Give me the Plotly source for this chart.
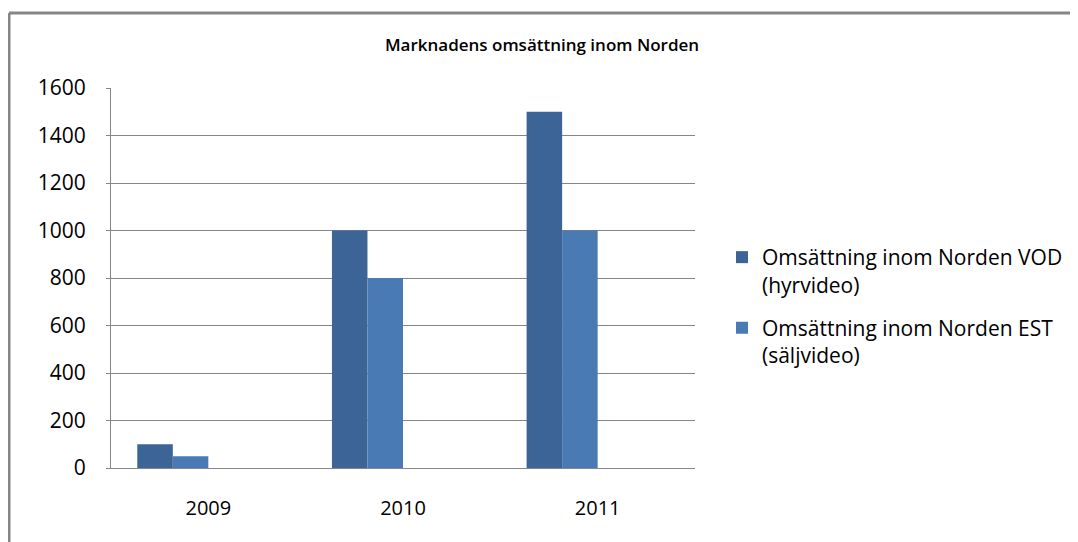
import plotly.graph_objects as go

years = ["2009", "2010", "2011"]
vod = [100, 1000, 1500]
est = [50, 800, 1000]
series_names = ["Omsättning inom Norden VOD<br>(hyrvideo)",
                "Omsättning inom Norden EST<br>(säljvideo)"]
title_text = "Marknadens omsättning inom Norden"
y_ticks = [0, 200, 400, 600, 800, 1000, 1200, 1400, 1600]

W, H = 1078, 542
OFF = 8  # page body margin
L, R, T, B = 111 - OFF, 695 - OFF, 88 - OFF, 468 - OFF
pw, ph = R - L, B - T

def px(x):
    return (x - OFF - L) / pw

def py(y):
    return (B - (y - OFF)) / ph

bw = 0.1825
fig = go.Figure()
fig.add_trace(go.Bar(x=years, y=vod, name=series_names[0], marker_color="#3C6496",
                     width=bw, offset=-2 * bw, marker_line_width=0, legendgroup="vod"))
fig.add_trace(go.Bar(x=years, y=est, name=series_names[1], marker_color="#4A7AB4",
                     width=bw, offset=-bw, marker_line_width=0, legendgroup="est"))

font_main = "Open Sans"
fig.update_layout(
    width=W, height=H,
    margin=dict(l=L, r=W - R, t=T, b=H - B),
    paper_bgcolor="white", plot_bgcolor="white",
    barmode="group",
    title=dict(text=title_text, x=px(542), xanchor="center", xref="paper",
               y=1 - (45 - OFF) / H, yanchor="middle",
               font=dict(family=font_main, size=17, color="black", weight=600)),
    font=dict(family=font_main, size=20, color="black"),
    showlegend=True,
    legend=dict(x=px(722), xanchor="left", y=py(237), yanchor="top",
                font=dict(family=font_main, size=21, color="black"),
                valign="top", tracegroupgap=13, itemwidth=30,
                bgcolor="rgba(0,0,0,0)"),
    xaxis=dict(type="category", showline=True, linecolor="#868686", linewidth=1,
               showgrid=False, ticks="", ticklabelstandoff=22,
               tickfont=dict(family=font_main, size=20, color="black")),
    yaxis=dict(range=[0, 1600], tickvals=y_ticks, showline=True, linecolor="#868686",
               linewidth=1, showgrid=True, gridcolor="#868686", gridwidth=1,
               ticks="outside", ticklen=4, tickcolor="#868686", ticklabelstandoff=16,
               tickfont=dict(family=font_main, size=21, color="black"),
               zeroline=False),
)

# outer chart frame (left and top edges visible in the reference)
fig.add_shape(type="line", xref="paper", yref="paper",
              x0=px(9), x1=px(9), y0=py(13), y1=py(570),
              line=dict(color="#868686", width=3))
fig.add_shape(type="line", xref="paper", yref="paper",
              x0=px(9), x1=px(1100), y0=py(13), y1=py(13),
              line=dict(color="#868686", width=3))

fig.write_html("out.html")
